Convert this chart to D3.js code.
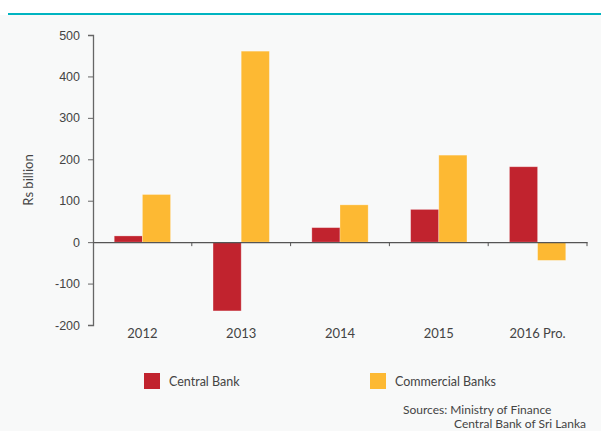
<!DOCTYPE html>
<html>
<head>
<meta charset="utf-8">
<script src="https://cdn.jsdelivr.net/npm/d3@7"></script>
<style>
  body { margin: 0; background: #fff; }
  svg { display: block; font-family: "Lato", "Open Sans", sans-serif; }
</style>
</head>
<body>
<div id="chartContainer"></div>
<script>
var years = ["2012", "2013", "2014", "2015", "2016 Pro."];
var series = ["Central Bank", "Commercial Banks"];
var centralBank = [15, -166, 35, 79, 182];
var commercialBanks = [115, 461, 90, 210, -44];
var yTicks = [-200, -100, 0, 100, 200, 300, 400, 500];
var colors = ["#c1232e", "#fdb933"];

var width = 601, height = 431;
var margin = {top: 35, left: 93, right: 14, bottom: 106};

var svg = d3.select("#chartContainer")
    .append("svg")
    .attr("width", width)
    .attr("height", height);

// panel background and teal rule
svg.append("rect")
    .attr("x", 0).attr("y", 15)
    .attr("width", width).attr("height", height - 15)
    .attr("fill", "#f8f9f9");
svg.append("rect")
    .attr("x", 8).attr("y", 13)
    .attr("width", width - 8).attr("height", 2)
    .attr("fill", "#00b4c1");

var yScale = d3.scaleLinear()
    .domain([-200, 500])
    .range([325, margin.top]);

var xScale = d3.scaleBand()
    .domain(years)
    .range([margin.left, width - margin.right])
    .paddingInner(0.43)
    .paddingOuter(0.215);

var xInner = d3.scaleBand()
    .domain(series)
    .range([0, xScale.bandwidth()]);

var data = years.map(function(y, i) {
    return {year: y, values: [centralBank[i], commercialBanks[i]]};
});

// bars
var groups = svg.selectAll("g.group")
    .data(data)
    .enter()
    .append("g")
    .attr("class", "group")
    .attr("transform", function(d) { return "translate(" + xScale(d.year) + ",0)"; });

groups.selectAll("rect")
    .data(function(d) { return d.values.map(function(v, j) { return {s: series[j], v: v, c: colors[j]}; }); })
    .enter()
    .append("rect")
    .attr("x", function(d) { return xInner(d.s); })
    .attr("width", xInner.bandwidth())
    .attr("y", function(d) { return yScale(Math.max(0, d.v)); })
    .attr("height", function(d) { return Math.abs(yScale(d.v) - yScale(0)); })
    .attr("fill", function(d) { return d.c; })
    .attr("stroke", "rgba(255,255,255,0.35)")
    .attr("stroke-width", 0.8);

// y axis
var axisVertical = d3.axisLeft(yScale)
    .tickValues(yTicks)
    .tickFormat(function(d) { return String(d); })
    .tickSize(5)
    .tickPadding(8);
var gy = svg.append("g")
    .attr("transform", "translate(" + margin.left + ",0)")
    .call(axisVertical);
gy.select(".domain").attr("stroke", "#666").attr("stroke-width", 1.3);
gy.selectAll(".tick line").attr("stroke", "#666");
gy.selectAll(".tick text").attr("fill", "#444").style("font-size", "12.5px");

// x axis at zero
var axisHorizontal = d3.axisBottom(xScale).tickSize(0).tickFormat("");
var gx = svg.append("g")
    .attr("transform", "translate(0," + yScale(0) + ")")
    .call(axisHorizontal);
gx.select(".domain").attr("stroke", "#555").attr("stroke-width", 1.2);

// boundary ticks between categories
var bounds = years.map(function(y) { return xScale(y) + xScale.bandwidth() + xScale.step() * 0.43 / 2; });
gx.selectAll("line.sep")
    .data(bounds)
    .enter()
    .append("line")
    .attr("class", "sep")
    .attr("x1", function(d) { return d; })
    .attr("x2", function(d) { return d; })
    .attr("y1", 0).attr("y2", 4)
    .attr("stroke", "#555");

// category labels
svg.selectAll("text.cat")
    .data(years)
    .enter()
    .append("text")
    .attr("class", "cat")
    .attr("x", function(d) { return xScale(d) + xScale.bandwidth() / 2; })
    .attr("y", 338)
    .attr("text-anchor", "middle")
    .attr("fill", "#444")
    .style("font-size", "13px")
    .text(function(d) { return d; });

// y title
svg.append("text")
    .attr("transform", "translate(33,180) rotate(-90)")
    .attr("text-anchor", "middle")
    .attr("fill", "#444")
    .style("font-size", "13px")
    .text("Rs  billion");

// legend
var legendX = [144, 370];
series.forEach(function(s, i) {
    svg.append("rect")
        .attr("x", legendX[i]).attr("y", 373)
        .attr("width", 16).attr("height", 16)
        .attr("fill", colors[i]);
    svg.append("text")
        .attr("x", legendX[i] + 25).attr("y", 385.5)
        .attr("fill", "#444")
        .style("font-size", "12.5px")
        .text(s);
});

// sources
svg.append("text")
    .attr("x", 403).attr("y", 414)
    .attr("fill", "#444")
    .style("font-size", "12px")
    .text("Sources: Ministry of Finance");
svg.append("text")
    .attr("x", 454).attr("y", 428)
    .attr("fill", "#444")
    .style("font-size", "12px")
    .text("Central Bank of Sri Lanka");
</script>
</body>
</html>
